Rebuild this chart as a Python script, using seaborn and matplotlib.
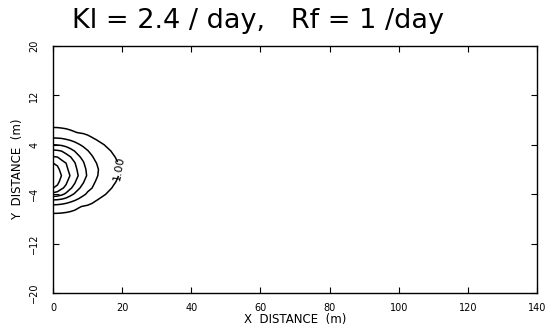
import numpy as np
import matplotlib
matplotlib.use('Agg')
import matplotlib.pyplot as plt
import seaborn as sns

# grid (x along the axis, y across it)
x_pos = [0, 1.25, 2.5, 3.75, 5, 6.25, 7.5, 8.75, 10, 11.25, 12.5, 15, 17.5, 20, 24, 30]
y_pos = [-9, -7.5, -6, -5, -4, -3, -2, -1, 0, 1, 2, 3, 4, 5, 6, 7.5, 9]

# estimated concentration, one row per y value
conc = [
    [0.53, 0.53, 0.53, 0.52, 0.52, 0.51, 0.49, 0.48, 0.47, 0.45, 0.43, 0.40, 0.37, 0.34, 0.29, 0.23],
    [0.77, 0.77, 0.76, 0.74, 0.72, 0.70, 0.68, 0.66, 0.63, 0.60, 0.57, 0.52, 0.46, 0.41, 0.34, 0.26],
    [1.67, 1.64, 1.57, 1.47, 1.34, 1.20, 1.05, 0.96, 0.91, 0.85, 0.79, 0.69, 0.60, 0.52, 0.41, 0.30],
    [2.88, 2.83, 2.71, 2.51, 2.27, 2.03, 1.79, 1.55, 1.34, 1.15, 1.01, 0.84, 0.70, 0.60, 0.46, 0.33],
    [4.67, 4.53, 4.22, 3.80, 3.29, 2.87, 2.49, 2.16, 1.87, 1.58, 1.31, 1.02, 0.83, 0.68, 0.51, 0.35],
    [6.02, 5.71, 5.15, 4.77, 4.14, 3.66, 3.09, 2.67, 2.21, 2.01, 1.62, 1.19, 0.95, 0.76, 0.56, 0.37],
    [6.63, 6.32, 5.54, 5.19, 4.52, 4.13, 3.44, 3.08, 2.48, 2.20, 1.93, 1.36, 1.06, 0.84, 0.60, 0.39],
    [7.15, 6.73, 5.95, 5.45, 4.95, 4.42, 3.90, 3.38, 2.88, 2.40, 2.10, 1.53, 1.16, 0.89, 0.62, 0.40],
    [6.57, 6.30, 5.61, 5.25, 4.69, 4.29, 3.73, 3.30, 2.80, 2.46, 2.12, 1.64, 1.24, 0.90, 0.63, 0.40],
    [6.02, 5.78, 5.25, 5.01, 4.37, 4.08, 3.42, 3.10, 2.54, 2.27, 2.02, 1.47, 1.14, 0.88, 0.61, 0.40],
    [5.09, 5.01, 4.76, 4.41, 4.05, 3.60, 3.11, 2.76, 2.29, 2.08, 1.77, 1.31, 1.04, 0.83, 0.59, 0.39],
    [4.18, 4.12, 3.97, 3.66, 3.30, 2.97, 2.64, 2.31, 2.04, 1.78, 1.50, 1.15, 0.93, 0.75, 0.55, 0.37],
    [3.02, 2.96, 2.87, 2.71, 2.52, 2.30, 2.06, 1.85, 1.63, 1.42, 1.22, 0.98, 0.80, 0.66, 0.50, 0.35],
    [2.09, 2.06, 2.02, 1.91, 1.79, 1.65, 1.49, 1.34, 1.19, 1.05, 0.95, 0.81, 0.68, 0.58, 0.45, 0.32],
    [1.31, 1.30, 1.25, 1.19, 1.11, 1.03, 0.96, 0.92, 0.86, 0.81, 0.76, 0.67, 0.58, 0.50, 0.40, 0.30],
    [0.73, 0.73, 0.72, 0.71, 0.69, 0.67, 0.65, 0.63, 0.61, 0.58, 0.56, 0.50, 0.45, 0.40, 0.34, 0.26],
    [0.51, 0.51, 0.50, 0.50, 0.49, 0.48, 0.47, 0.46, 0.45, 0.43, 0.42, 0.39, 0.36, 0.33, 0.28, 0.22],
]

levels = [1, 2, 3, 4, 5, 6]
x_ticks = [0, 20, 40, 60, 80, 100, 120, 140]
y_ticks = [-20, -12, -4, 4, 12, 20]

sns.set_style('ticks')
plt.rcParams['font.family'] = ['DejaVu Sans']
plt.rcParams['text.color'] = 'black'
plt.rcParams['axes.labelcolor'] = 'black'
plt.rcParams['xtick.color'] = 'black'
plt.rcParams['ytick.color'] = 'black'

fig = plt.figure(figsize=(5.53, 3.31), dpi=100)
ax = fig.add_axes([0.096, 0.115, 0.875, 0.746])

cs = ax.contour(x_pos, y_pos, np.array(conc), levels=levels,
                colors='black', linewidths=1.1)
lbls = ax.clabel(cs, levels=[1], fmt='%1.2f', fontsize=8, inline=True,
                 manual=[(19, 0)], colors='black')
for t in lbls:
    t.set_rotation(80)

ax.set_xlim(0, 140)
ax.set_ylim(-20, 20)
ax.set_xticks(x_ticks)
ax.set_yticks(y_ticks)
ax.tick_params(direction='in', length=4, width=0.8, labelsize=7,
               top=True, right=True)
ax.tick_params(axis='x', pad=7)
ax.tick_params(axis='y', pad=10)
plt.setp(ax.get_yticklabels(), rotation=90, va='center')
for s in ax.spines.values():
    s.set_linewidth(1.0)
    s.set_color('black')

ax.set_xlabel('X  DISTANCE  (m)', fontsize=8.5, labelpad=0)
ax.set_ylabel('Y  DISTANCE  (m)', fontsize=8.5, labelpad=4)
fig.text(0.466, 0.915, 'Kl = 2.4 / day,   Rf = 1 /day', ha='center',
         va='baseline', fontsize=19.5, color='black')

fig.savefig('out.png', dpi=100)
